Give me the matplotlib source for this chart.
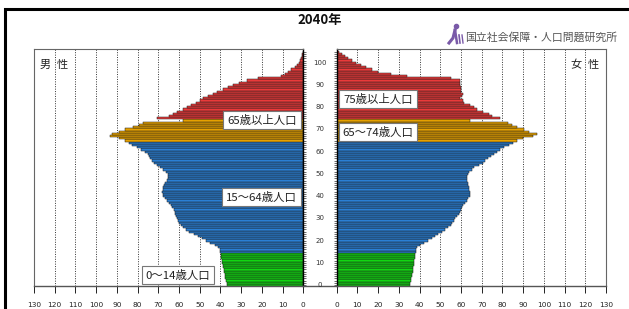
import matplotlib
matplotlib.use("Agg")
import matplotlib.pyplot as plt
from matplotlib.patches import Rectangle
from matplotlib.lines import Line2D
from matplotlib.transforms import blended_transform_factory

plt.rcParams['font.family'] = ['Noto Sans CJK JP', 'DejaVu Sans']

# population by single year of age (10,000 persons), 2040 projection
ages = list(range(106))
male = [
    36.7, 37.0, 37.3, 37.6, 37.8, 38.0, 38.2, 38.5, 38.7, 38.9,   # 0-9
    39.1, 39.3, 39.5, 39.7, 39.9, 40.0, 40.3, 41.2, 42.8, 44.8,   # 10-19
    46.8, 48.8, 51.0, 53.0, 55.0, 56.8, 58.2, 59.2, 60.0, 60.6,   # 20-29
    61.2, 61.5, 61.8, 62.0, 62.6, 63.4, 63.8, 64.8, 66.0, 67.0,   # 30-39
    67.5, 67.8, 68.0, 67.9, 67.6, 67.2, 66.8, 66.0, 65.3, 65.2,   # 40-49
    65.5, 66.2, 67.5, 69.0, 70.5, 72.0, 73.0, 73.8, 74.3, 75.2,   # 50-59
    76.5, 78.5, 80.5, 82.5, 84.0, 86.0, 89.0, 93.5, 92.5, 89.0,   # 60-69
    86.0, 82.0, 79.5, 77.3, 58.3, 70.5, 65.0, 63.0, 61.0, 58.0,   # 70-79
    56.0, 54.0, 52.0, 50.0, 48.3, 46.0, 43.5, 41.5, 39.0, 36.5,   # 80-89
    34.0, 31.0, 27.0, 22.0, 11.0, 9.0, 7.5, 5.8, 4.2, 3.1,        # 90-99
    2.2, 1.5, 1.0, 0.7, 0.4, 0.3]                                  # 100-105
female = [
    35.2, 35.4, 35.7, 35.9, 36.2, 36.4, 36.6, 36.8, 37.0, 37.2,   # 0-9
    37.4, 37.5, 37.6, 37.7, 37.8, 38.1, 38.3, 38.8, 40.2, 42.0,   # 10-19
    44.0, 45.9, 47.5, 49.1, 50.7, 52.2, 53.9, 55.0, 55.8, 56.5,   # 20-29
    57.1, 58.0, 58.8, 59.6, 60.2, 60.6, 61.2, 62.0, 62.8, 63.6,   # 30-39
    64.4, 64.4, 64.2, 64.0, 63.8, 63.6, 63.2, 62.8, 62.8, 62.8,   # 40-49
    63.2, 63.8, 65.2, 66.5, 68.8, 70.8, 71.5, 72.8, 74.5, 75.8,   # 50-59
    77.3, 79.0, 81.0, 83.0, 85.3, 87.0, 90.0, 95.0, 96.5, 93.0,   # 60-69
    90.5, 87.0, 84.5, 82.5, 64.4, 79.0, 75.0, 73.5, 70.5, 67.5,   # 70-79
    66.5, 64.5, 61.5, 61.0, 59.6, 60.4, 60.8, 60.2, 60.0, 59.8,   # 80-89
    59.6, 59.6, 59.3, 55.0, 34.0, 26.0, 20.0, 17.0, 14.0, 11.5,   # 90-99
    9.5, 7.5, 5.5, 4.0, 2.5, 1.3]                                  # 100-105

group_colors = {'0-14': '#12d612', '15-64': '#2a7fd4', '65-74': '#e6a100', '75+': '#ea3a3a'}
x_ticks = list(range(0, 131, 10))
age_ticks = list(range(0, 101, 10))


def age_color(a):
    if a < 15:
        return group_colors['0-14']
    if a < 65:
        return group_colors['15-64']
    if a < 75:
        return group_colors['65-74']
    return group_colors['75+']


colors = [age_color(a) for a in ages]

W, H = 629, 309
fig = plt.figure(figsize=(W / 100, H / 100), dpi=100)

bot, top = 286.3, 49
axL = fig.add_axes([34 / W, (H - bot) / H, (303.3 - 34) / W, (bot - top) / H])
axR = fig.add_axes([336.7 / W, (H - bot) / H, (606 - 336.7) / W, (bot - top) / H])

for ax, vals in ((axL, male), (axR, female)):
    ax.barh(ages, vals, height=1.0, color=colors, edgecolor='#1a1a1a', linewidth=0.35, zorder=2)
    ax.set_ylim(-0.58, 106.2)
    ax.set_xlim(0, 130)
    for v in x_ticks[1:]:
        ax.axvline(v, color='#333333', linestyle=(0, (1, 1.5)), linewidth=0.7, zorder=1)
    ax.set_xticks(x_ticks)
    ax.set_xticklabels([str(v) for v in x_ticks], fontsize=5.3, family='DejaVu Sans')
    ax.tick_params(axis='x', direction='out', length=5, width=0.7, pad=6, colors='#222222')
    ax.set_yticks(ages)
    ax.set_yticklabels([])
    for s in ax.spines.values():
        s.set_color('#666666')
        s.set_linewidth(0.8)
    ax.spines['bottom'].set_color('#555555')
    ax.spines['bottom'].set_linewidth(1.0)

axL.invert_xaxis()
axL.yaxis.tick_right()
axL.tick_params(axis='y', direction='out', length=2.5, width=0.5, colors='#333333')
axL.spines['right'].set_color('black')
axL.spines['right'].set_linewidth(1.0)
axR.yaxis.tick_left()
axR.tick_params(axis='y', direction='out', length=2.5, width=0.5, colors='#333333')
axR.spines['left'].set_color('black')
axR.spines['left'].set_linewidth(1.0)

# age labels in the central strip
tr = blended_transform_factory(fig.transFigure, axL.transData)
for a in age_ticks:
    fig.text(320 / W, a, str(a), transform=tr, ha='center', va='center',
             fontsize=5, color='#333333', family='DejaVu Sans')

# bottom line across the centre strip
fig.add_artist(Line2D([303 / W, 337 / W], [(H - bot) / H] * 2, color='#555555', lw=1.0))

# outer frame
fig.add_artist(Rectangle((4.5 / W, -0.1), 1.2, (H - 9) / H + 0.1, transform=fig.transFigure,
                         fill=False, edgecolor='black', linewidth=2.2))

fig.text(319.5 / W, 1 - 20 / H, '2040年', ha='center', va='center', fontsize=9.5,
         fontweight='bold', color='#111111')

# logo
fig.text(465 / W, 1 - 37 / H, '国立社会保障・人口問題研究所', ha='left', va='center',
         fontsize=7.8, color='#555555')
purple = '#7a5aa8'
fig.add_artist(Line2D([449 / W, 453 / W, 455 / W], [1 - 43 / H, 1 - 38 / H, 1 - 30 / H], color=purple, lw=2.2))
fig.add_artist(Line2D([455 / W, 457 / W], [1 - 30 / H, 1 - 43 / H], color=purple, lw=1.8))
fig.add_artist(Line2D([459 / W, 460 / W], [1 - 35 / H, 1 - 43 / H], color=purple, lw=1.2))
fig.add_artist(Line2D([462 / W, 463 / W], [1 - 35 / H, 1 - 43 / H], color=purple, lw=1.0))
fig.add_artist(Line2D([455.5 / W], [1 - 26 / H], marker='o', markersize=3, color=purple, lw=0))

# sex labels
for txt, x in (('男', 45), ('性', 62.5), ('女', 576), ('性', 593.5)):
    fig.text(x / W, 1 - 65 / H, txt, ha='center', va='center', fontsize=8, color='#222222')

# age group labels
box = dict(boxstyle='square,pad=0.35', facecolor='white', edgecolor='#777777', linewidth=0.8)
labels = [('65歳以上人口', 262, 120), ('15～64歳人口', 261.5, 197), ('0～14歳人口', 178, 275),
          ('75歳以上人口', 378, 99), ('65～74歳人口', 378, 132)]
for txt, x, y in labels:
    fig.text(x / W, 1 - y / H, txt, ha='center', va='center', fontsize=8.2,
             color='#222222', bbox=box, zorder=5)

fig.savefig('out.png', dpi=100)
